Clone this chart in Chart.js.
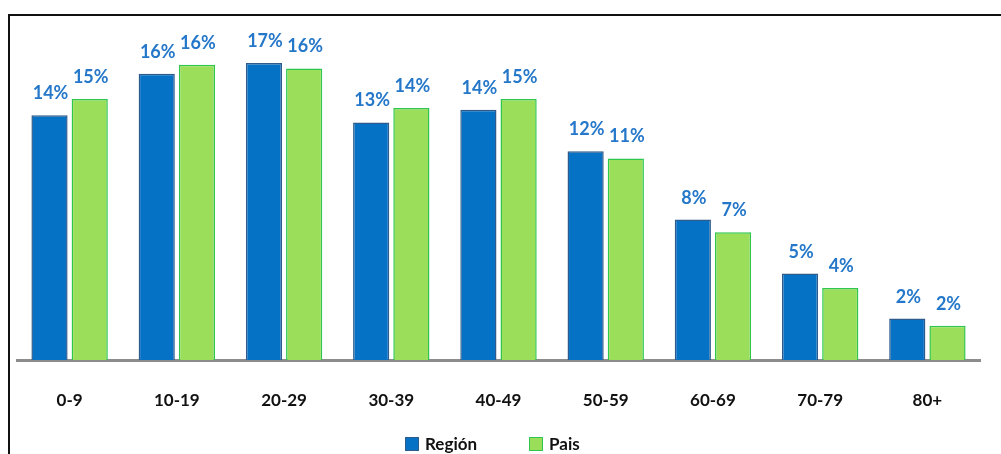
<!DOCTYPE html>
<html>
<head>
<meta charset="utf-8">
<script src="https://cdn.jsdelivr.net/npm/chart.js@4/dist/chart.umd.min.js"></script>
<style>
  body { margin: 0; background: #fff; }
  #wrap { position: relative; width: 1001px; height: 454px; overflow: hidden; }
  #frame {
    position: absolute; left: 8px; top: 14px; width: 1100px; height: 500px;
    border-top: 2px solid #111; border-left: 2px solid #111;
  }
  #chart { position: absolute; left: 0; top: 0; }
  #legend {
    position: absolute; left: 405px; top: 433px;
    font: bold 17px Lato, "Open Sans", sans-serif; color: #111;
    display: flex; align-items: center;
  }
  #legend span.item { display: flex; align-items: center; margin-right: 52px; }
  #legend span.box { width: 12px; height: 12px; margin-right: 6px; border: 1.5px solid; }
</style>
</head>
<body>
<div id="wrap">
  <div id="frame"></div>
  <canvas id="chart" width="1001" height="454"></canvas>
  <div id="legend"></div>
</div>
<script>
const ageGroups = ["0-9", "10-19", "20-29", "30-39", "40-49", "50-59", "60-69", "70-79", "80+"];
const regionValues = [13.6, 15.9, 16.5, 13.2, 13.9, 11.6, 7.8, 4.8, 2.3];
const paisValues = [14.5, 16.4, 16.2, 14.0, 14.5, 11.2, 7.1, 4.0, 1.9];
const regionLabels = ["14%", "16%", "17%", "13%", "14%", "12%", "8%", "5%", "2%"];
const paisLabels = ["15%", "16%", "16%", "14%", "15%", "11%", "7%", "4%", "2%"];

// base line under the bars, from the chart area edges
const baseLine = {
  id: "baseLine",
  beforeDatasetsDraw(chart) {
    const ctx = chart.ctx;
    const area = chart.chartArea;
    const y = chart.scales.y.getPixelForValue(0);
    ctx.save();
    ctx.strokeStyle = "#8c8c8c";
    ctx.lineWidth = 3;
    ctx.beginPath();
    ctx.moveTo(area.left, y + 0.5);
    ctx.lineTo(area.right, y + 0.5);
    ctx.stroke();
    ctx.restore();
  },
};

const barLabels = {
  id: "barLabels",
  afterDatasetsDraw(chart) {
    const ctx = chart.ctx;
    ctx.save();
    ctx.font = "bold 18px Lato, 'Open Sans', sans-serif";
    ctx.fillStyle = "#2477c9";
    ctx.textAlign = "center";
    ctx.textBaseline = "alphabetic";
    chart.data.datasets.forEach((ds, i) => {
      chart.getDatasetMeta(i).data.forEach((bar, j) => {
        ctx.fillText(ds.valueLabels[j], bar.x + 1, bar.y - 16);
      });
    });
    ctx.restore();
  },
};

const chart = new Chart(document.getElementById("chart").getContext("2d"), {
  type: "bar",
  data: {
    labels: ageGroups,
    datasets: [
      {
        label: "Región",
        data: regionValues,
        valueLabels: regionLabels,
        backgroundColor: "#0672c6",
        borderColor: "#2f5b8c",
        borderWidth: 1.5,
      },
      {
        label: "Pais",
        data: paisValues,
        valueLabels: paisLabels,
        backgroundColor: "#9bde5a",
        borderColor: "#2ec64c",
        borderWidth: 1.5,
      },
    ],
  },
  options: {
    responsive: false,
    animation: false,
    layout: { padding: { left: 16, right: 20, top: 36, bottom: 0 } },
    categoryPercentage: 0.75,
    barPercentage: 0.9,
    scales: {
      x: {
        grid: { display: false, drawTicks: false },
        border: { display: false },
        ticks: {
          color: "#111",
          padding: 30,
          font: { family: "Lato, 'Open Sans', sans-serif", size: 17, weight: "bold" },
        },
        afterFit(scale) { scale.height = 94; },
      },
      y: {
        display: false,
        min: 0,
        max: 18,
      },
    },
    plugins: {
      legend: { display: false },
      tooltip: { enabled: false },
    },
  },
  plugins: [baseLine, barLabels],
});

let legendHTML = "";
chart.data.datasets.forEach((ds) => {
  legendHTML += `<span class="item"><span class="box" style="background:${ds.backgroundColor};border-color:${ds.borderColor}"></span>${ds.label}</span>`;
});
document.getElementById("legend").innerHTML = legendHTML;
</script>
</body>
</html>
